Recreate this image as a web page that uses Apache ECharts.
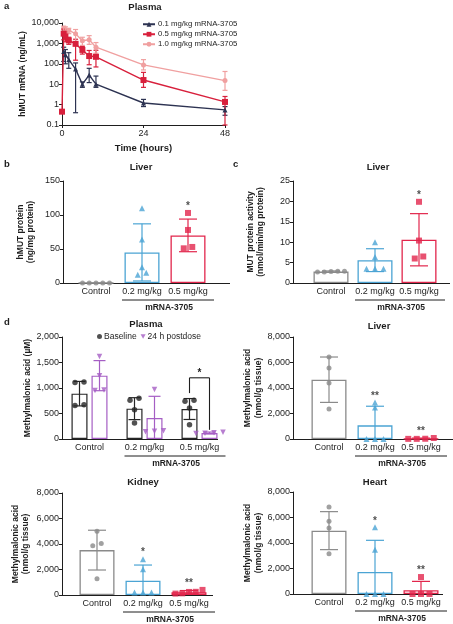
<!DOCTYPE html>
<html><head><meta charset="utf-8">
<script src="https://cdn.jsdelivr.net/npm/echarts@6/dist/echarts.min.js"></script>
<style>html,body{margin:0;padding:0;background:#fff}#c{width:453px;height:624px}</style>
</head><body><div id="c"></div>
<script>
const FONT = '"Liberation Sans",Arial,sans-serif';
const TXT = '#1e1e1e';

// ---------- Panel a: plasma hMUT mRNA ----------
const pkNames = ['0.1 mg/kg mRNA-3705', '0.5 mg/kg mRNA-3705', '1.0 mg/kg mRNA-3705'];
const pkTimes01 = [0.5, 1, 2, 4, 6, 8, 10, 24, 48];
const pk01   = [400, 280, 160, 55, 10, 28, 10, 1.2, 0.55];
const pk01Lo = [130, 100, 60, 0.4, 7, 12, 7, 0.8, 0.3];
const pk01Hi = [650, 500, 350, 110, 13, 60, 25, 1.8, 0.8];
const pkTimes05 = [0, 0.5, 1, 2, 4, 6, 8, 10, 24, 48];
const pk05   = [0.45, 3000, 2200, 1400, 950, 480, 240, 220, 16, 1.35];
const pk05Lo = [0.45, 1500, 1200, 900, 150, 300, 90, 70, 7, 0.1];
const pk05Hi = [0.45, 5000, 3500, 2000, 1600, 700, 450, 460, 38, 2.5];
const pkTimes10 = [0.5, 1, 2, 4, 6, 8, 10, 24, 48];
const pk10   = [5500, 4800, 4300, 3000, 1350, 1500, 650, 88, 15];
const pk10Lo = [4000, 3500, 3000, 1000, 800, 900, 330, 50, 5];
const pk10Hi = [7000, 6500, 5500, 4800, 2000, 2400, 1100, 160, 42];
const pkYTicks = [0.1, 1, 10, 100, 1000, 10000];

// ---------- Bar panels ----------
const groups = ['Control', '0.2 mg/kg', '0.5 mg/kg'];

// b: liver hMUT protein (ng/mg protein)
const protMean = [0, 45, 70];
const protSD   = [0, 42, 24];
const protPts  = [[0, 0, 0, 0, 0], [110, 64, 23, 15, 12], [103, 78, 51, 53]];
const protStars = ['', '', '*'];

// c: liver MUT activity (nmol/min/mg protein)
const actMean = [2.8, 5.6, 10.6];
const actSD   = [0.15, 2.8, 6.4];
const actPts  = [[2.7, 2.9, 2.8, 2.9, 2.7], [10, 6.4, 3.5, 3.5, 3.5], [19.9, 10.4, 6.0, 6.5]];
const actStars = ['', '', '*'];

// d: plasma methylmalonic acid (µM)
const plasmaBaseMean = [889, 595, 588];
const plasmaBaseSD   = [240, 215, 205];
const plasmaBasePts  = [[1110, 1120, 670, 655], [800, 760, 575, 315], [740, 760, 610, 280]];
const plasmaPostMean = [1242, 412, 118];
const plasmaPostSD   = [295, 425, 18];
const plasmaPostPts  = [[1620, 1240, 950, 960], [970, 150, 140, 160], [130, 115, 125, 110]];
const plasmaSig = {group: 2, top: 1200, leftDrop: 900, rightDrop: 180, text: '*'};

// d: liver MMA (nmol/g tissue)
const livMean = [4650, 1070, 30];
const livSD   = [1780, 1500, 40];
const livPts  = [[6430, 5570, 4390, 2350], [2870, 2480, 0, 0, 0], [20, 80, 10, 10]];
const livStars = ['', '**', '**'];

// d: kidney MMA
const kidMean = [3520, 1120, 220];
const kidSD   = [1560, 1230, 130];
const kidPts  = [[5000, 4040, 3860, 1280], [2810, 2010, 200, 200, 200], [130, 400, 250, 240, 110]];
const kidStars = ['', '*', '**'];

// d: heart MMA
const hrtMean = [4970, 1730, 290];
const hrtSD   = [1490, 2480, 700];
const hrtPts  = [[6820, 5700, 5180, 3160], [5230, 3480, 0, 0, 0], [1330, 0, 0, 0]];
const hrtStars = ['', '*', '**'];

// ---------- styles ----------
const grpColors = ['#8a8a8a', '#4ba4d4', '#e2264c'];
const grpSymbols = ['circle', 'triangle', 'rect'];
const grpSizes = [5, 6, 6];
const pkColors = ['#2d3352', '#d8203c', '#f0a0a0'];
const pkSymbols = ['triangle', 'rect', 'circle'];
const baseColor = '#262626', postColor = '#a55ec4';

function fmtNum(v) { v = +(+v).toPrecision(6); return v >= 1000 ? v.toLocaleString('en-US') : String(v); }
function zip(a, b) { return a.map((x, i) => [x, b[i]]); }
function swarm(vals, pxPerUnit, spacing) {
  const idx = vals.map((v, i) => i).sort((a, b) => vals[a] - vals[b]);
  const off = new Array(vals.length).fill(0);
  const clusters = []; let cur = [idx[0]];
  for (let k = 1; k < idx.length; k++) {
    if ((vals[idx[k]] - vals[cur[cur.length - 1]]) * pxPerUnit < 4.5) cur.push(idx[k]);
    else { clusters.push(cur); cur = [idx[k]]; }
  }
  clusters.push(cur);
  clusters.forEach(c => { const n = c.length; const sp = n > 1 ? Math.min(spacing, 27 / (n - 1)) : 0; c.forEach((ii, j) => off[ii] = (j - (n - 1) / 2) * sp); });
  return off;
}

const option = { animation: false, textStyle: { fontFamily: FONT }, grid: [], xAxis: [], yAxis: [], series: [], legend: [] };
const nameStyle = { fontWeight: 'bold', fontSize: 8.5, color: TXT, fontFamily: FONT, lineHeight: 10.5 };
const tickLbl = { fontSize: 9, color: TXT, fontFamily: FONT };

function errSeries(gi, data, cols, dx, capHalf) {
  return { type: 'custom', xAxisIndex: gi, yAxisIndex: gi, silent: true, z: 4, data,
    renderItem: (p, api) => {
      const i = api.value(0), lo = api.value(1), hi = api.value(2);
      const c = api.coord([i, lo]); const x = c[0] + dx; const y1 = c[1]; const y2 = api.coord([i, hi])[1];
      const col = cols[p.dataIndex];
      const st = { stroke: col, lineWidth: 1.2 };
      const ch = [{ type: 'line', shape: { x1: x, y1: y1, x2: x, y2: y2 }, style: st },
                  { type: 'line', shape: { x1: x - capHalf, y1: y2, x2: x + capHalf, y2: y2 }, style: st }];
      if (lo > 0 && lo !== hi) ch.push({ type: 'line', shape: { x1: x - capHalf, y1: y1, x2: x + capHalf, y2: y1 }, style: st });
      return { type: 'group', children: ch };
    } };
}

// ---- panel a
option.grid.push({ left: 62, top: 23, width: 163, height: 102 });
option.xAxis.push({ gridIndex: 0, type: 'value', min: 0, max: 48, interval: 24,
  axisLine: { lineStyle: { color: TXT } }, axisTick: { length: 3, lineStyle: { color: TXT } },
  axisLabel: Object.assign({ margin: 4 }, tickLbl), splitLine: { show: false },
  name: 'Time (hours)', nameLocation: 'middle', nameGap: 18, nameTextStyle: Object.assign({}, nameStyle, { fontSize: 9.5 }) });
option.yAxis.push({ gridIndex: 0, type: 'log', logBase: 10, min: pkYTicks[0], max: pkYTicks[pkYTicks.length - 1],
  axisLine: { show: true, lineStyle: { color: TXT } }, axisTick: { show: true, length: 3, lineStyle: { color: TXT } },
  axisLabel: Object.assign({ margin: 3, formatter: fmtNum }, tickLbl), splitLine: { show: false }, minorTick: { show: false },
  name: 'hMUT mRNA (ng/mL)', nameLocation: 'middle', nameRotate: 90, nameGap: 28, nameTextStyle: nameStyle });
[[pkTimes01, pk01, pk01Lo, pk01Hi], [pkTimes05, pk05, pk05Lo, pk05Hi], [pkTimes10, pk10, pk10Lo, pk10Hi]].forEach((d, k) => {
  option.series.push(errSeries(0, d[0].map((t, i) => [t, d[2][i], d[3][i]]), d[0].map(() => pkColors[k]), 0, 2.5));
  option.series.push({ type: 'line', name: pkNames[k], xAxisIndex: 0, yAxisIndex: 0, data: zip(d[0], d[1]),
    symbol: pkSymbols[k], symbolSize: k === 1 ? 6 : 5, lineStyle: { color: pkColors[k], width: 1.4 },
    itemStyle: { color: pkColors[k] }, z: 5 - k });
});
option.legend.push({ data: pkNames, orient: 'vertical', left: 142, top: 20, itemWidth: 12, itemHeight: 6, itemGap: 1.5, padding: 0,
  textStyle: { fontSize: 7.8, color: TXT, fontFamily: FONT, lineHeight: 8.5, padding: [0, 0, 0, -2] } });

// ---- generic single-bar panels
const panels = [
  { gi: 1, grid: { left: 73, top: 181, width: 138, height: 102 }, yOffset: 10, yMax: 150, yInt: 50, nameGap: 27,
    yName: 'hMUT protein\n(ng/mg protein)', means: protMean, sd: protSD, pts: protPts, stars: protStars, xLine: [63, 230] },
  { gi: 2, grid: { left: 309, top: 181, width: 132, height: 102 }, yOffset: 16, yMax: 25, yInt: 5, nameGap: 27,
    yName: 'MUT protein activity\n(nmol/min/mg protein)', means: actMean, sd: actSD, pts: actPts, stars: actStars, xLine: [293, 450] },
  { gi: 4, grid: { left: 306, top: 337, width: 138, height: 102 }, yOffset: 13, yMax: 8000, yInt: 2000, nameGap: 27,
    yName: 'Methylmalonic acid\n(nmol/g tissue)', means: livMean, sd: livSD, pts: livPts, stars: livStars, xLine: [293, 453] },
  { gi: 5, grid: { left: 74, top: 493, width: 138, height: 102 }, yOffset: 12, yMax: 8000, yInt: 2000, nameGap: 31,
    yName: 'Methylmalonic acid\n(nmol/g tissue)', means: kidMean, sd: kidSD, pts: kidPts, stars: kidStars, xLine: [62, 213] },
  { gi: 6, grid: { left: 306, top: 492, width: 138, height: 102 }, yOffset: 13, yMax: 8000, yInt: 2000, nameGap: 27,
    yName: 'Methylmalonic acid\n(nmol/g tissue)', means: hrtMean, sd: hrtSD, pts: hrtPts, stars: hrtStars, xLine: [293, 443] }
];

function addAxes(gi, grid, yOffset, yMax, yInt, yName, nameGap) {
  option.grid[gi] = grid;
  option.xAxis[gi] = { gridIndex: gi, type: 'category', data: groups, axisLine: { show: false }, axisTick: { show: false },
    axisLabel: Object.assign({ margin: 4, interval: 0 }, tickLbl) };
  option.yAxis[gi] = { gridIndex: gi, type: 'value', min: 0, max: yMax, interval: yInt, offset: yOffset,
    axisLine: { show: true, lineStyle: { color: TXT } }, axisTick: { show: true, length: 3, lineStyle: { color: TXT } },
    axisLabel: Object.assign({ margin: 3, formatter: fmtNum }, tickLbl), splitLine: { show: false },
    name: yName, nameLocation: 'middle', nameRotate: 90, nameGap: nameGap, nameTextStyle: nameStyle };
}

panels.forEach(P => {
  const gi = P.gi;
  addAxes(gi, P.grid, P.yOffset, P.yMax, P.yInt, P.yName, P.nameGap);
  const ppu = P.grid.height / P.yMax;
  option.series.push({ type: 'bar', xAxisIndex: gi, yAxisIndex: gi, barWidth: 35, silent: true, z: 2,
    data: P.means.map((m, i) => ({ value: m, itemStyle: { color: '#fff', borderColor: grpColors[i], borderWidth: 1.3 } })) });
  option.series.push(errSeries(gi, P.means.map((m, i) => [i, Math.max(0, m - P.sd[i]), m + P.sd[i]]), grpColors, 0, 9));
  const pts = [];
  P.pts.forEach((arr, i) => {
    const off = swarm(arr, ppu, 8.5);
    arr.forEach((v, j) => pts.push({ value: [i, v], symbol: grpSymbols[i], symbolSize: grpSizes[i], symbolOffset: [off[j], 0],
      itemStyle: { color: grpColors[i] } }));
  });
  option.series.push({ type: 'scatter', xAxisIndex: gi, yAxisIndex: gi, data: pts, z: 6, silent: true });
  const st = [];
  P.stars.forEach((s, i) => { if (s) st.push({ value: [i, Math.max(P.means[i] + P.sd[i], ...P.pts[i])], label: { formatter: s } }); });
  option.series.push({ type: 'scatter', xAxisIndex: gi, yAxisIndex: gi, data: st, symbolSize: 1, itemStyle: { color: 'rgba(0,0,0,0)' },
    silent: true, label: { show: true, position: 'top', distance: 1, fontSize: 10, fontWeight: 'bold', color: TXT, fontFamily: FONT } });
});

// ---- plasma grouped panel (grid 3)
addAxes(3, { left: 62, top: 337, width: 165, height: 102 }, 0, 2000, 500, 'Methylmalonic acid (µM)', 29);
(function () {
  const gi = 3, ppu = 102 / 2000;
  option.series.push({ type: 'bar', name: 'Baseline mean', xAxisIndex: gi, yAxisIndex: gi, barWidth: 16, barGap: '25%', silent: true, z: 2,
    data: plasmaBaseMean, itemStyle: { color: '#fff', borderColor: baseColor, borderWidth: 1.2 } });
  option.series.push({ type: 'bar', name: 'Postdose mean', xAxisIndex: gi, yAxisIndex: gi, barWidth: 16, barGap: '25%', silent: true, z: 2,
    data: plasmaPostMean, itemStyle: { color: '#fff', borderColor: postColor, borderWidth: 1.2 } });
  option.series.push(errSeries(gi, plasmaBaseMean.map((m, i) => [i, Math.max(0, m - plasmaBaseSD[i]), m + plasmaBaseSD[i]]), [baseColor, baseColor, baseColor], -10, 6));
  option.series.push(errSeries(gi, plasmaPostMean.map((m, i) => [i, Math.max(0, m - plasmaPostSD[i]), m + plasmaPostSD[i]]), [postColor, postColor, postColor], 10, 6));
  const mk = (arrs, dx) => { const out = []; arrs.forEach((arr, i) => { const off = swarm(arr, ppu, 9); arr.forEach((v, j) => out.push({ value: [i, v], symbolOffset: [dx + off[j], 0] })); }); return out; };
  option.series.push({ type: 'scatter', name: 'Baseline', xAxisIndex: gi, yAxisIndex: gi, data: mk(plasmaBasePts, -10), symbol: 'circle', symbolSize: 5.5,
    itemStyle: { color: baseColor }, z: 6, silent: true });
  option.series.push({ type: 'scatter', name: '24 h postdose', xAxisIndex: gi, yAxisIndex: gi, data: mk(plasmaPostPts, 10), symbol: 'triangle', symbolRotate: 180, symbolSize: 5.5,
    itemStyle: { color: postColor }, z: 6, silent: true });
  option.legend.push({ data: [{ name: 'Baseline', icon: 'circle' }, { name: '24 h postdose', icon: 'path://M0,0L10,0L5,9Z' }],
    left: 97, top: 332, itemWidth: 5, itemHeight: 5, itemGap: 4, padding: 0,
    textStyle: { fontSize: 8.5, color: TXT, fontFamily: FONT, padding: [0, 0, 0, -3] } });
})();

const chart = echarts.init(document.getElementById('c'), null, { renderer: 'canvas' });
chart.setOption(option);

// ---- annotations (panel letters, titles, axis baselines, brackets)
const g = [];
function txt(x, y, s, opt) { g.push({ type: 'text', x, y, style: Object.assign({ text: s, fill: TXT, font: 'bold 9.5px ' + FONT, textAlign: 'center', textVerticalAlign: 'middle' }, opt || {}) }); }
function ln(x1, y1, x2, y2, col, w) { g.push({ type: 'line', shape: { x1, y1, x2, y2 }, style: { stroke: col || TXT, lineWidth: w || 1 } }); }
txt(4, 6, 'a', { textAlign: 'left' });
txt(4, 164, 'b', { textAlign: 'left' });
txt(233, 164, 'c', { textAlign: 'left' });
txt(4, 322, 'd', { textAlign: 'left' });
txt(145, 7, 'Plasma');
txt(141, 167, 'Liver');
txt(378, 167, 'Liver');
txt(146, 324, 'Plasma');
txt(379, 326, 'Liver');
txt(143, 482, 'Kidney');
txt(375, 482, 'Heart');

const allPanels = panels.concat([{ gi: 3, grid: option.grid[3], xLine: [62, 218] }]);
allPanels.forEach(P => {
  const y0 = P.grid.top + P.grid.height;
  ln(P.xLine[0], y0 + 0.5, P.xLine[1], y0 + 0.5, TXT, 1);
  const c1 = chart.convertToPixel({ gridIndex: P.gi }, [1, 0])[0];
  const c2 = chart.convertToPixel({ gridIndex: P.gi }, [2, 0])[0];
  const by = y0 + 17;
  ln(c1 - 20, by, c2 + 26, by, TXT, 1);
  txt((c1 - 20 + c2 + 26) / 2 + 1, by + 8, 'mRNA-3705', { font: 'bold 8.5px ' + FONT });
});

// plasma significance bracket
(function () {
  const s = plasmaSig;
  const cx = chart.convertToPixel({ gridIndex: 3 }, [s.group, s.top]);
  const yl = chart.convertToPixel({ gridIndex: 3 }, [s.group, s.leftDrop])[1];
  const yr = chart.convertToPixel({ gridIndex: 3 }, [s.group, s.rightDrop])[1];
  const xl = cx[0] - 10, xr = cx[0] + 10;
  ln(xl, yl, xl, cx[1], TXT, 1.1); ln(xl, cx[1], xr, cx[1], TXT, 1.1); ln(xr, cx[1], xr, yr, TXT, 1.1);
  txt(cx[0], cx[1] - 5, s.text, { font: 'bold 10px ' + FONT });
})();
chart.setOption({ graphic: g });
</script></body></html>
